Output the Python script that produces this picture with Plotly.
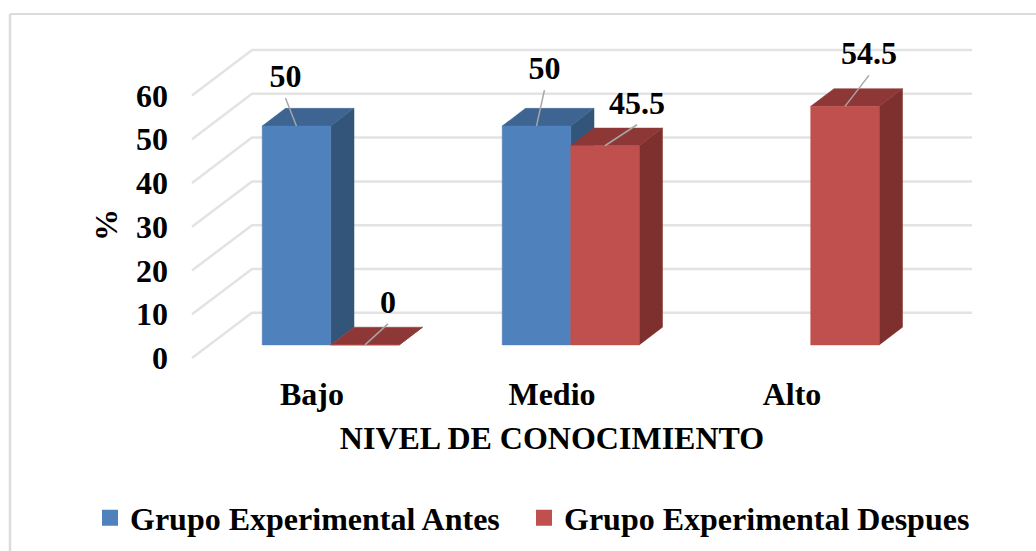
import plotly.graph_objects as go

# Datos del gráfico
categories = ["Bajo", "Medio", "Alto"]
antes_values = [50, 50, None]
despues_values = [0, 45.5, 54.5]
y_ticks = [0, 10, 20, 30, 40, 50, 60]

ANTES_NAME = "Grupo Experimental Antes"
DESPUES_NAME = "Grupo Experimental Despues"

# Oblique projection used for the 3D look, in axis units
PX_X = 1 / 240        # one screen pixel along x
PX_Y = 1 / 4.377      # one screen pixel along y
WALL_DX, WALL_DY = 60 * PX_X, 45.3 * PX_Y
FRONT_DX, FRONT_DY = 18.7 * PX_X, 13.1 * PX_Y
SIDE_DX, SIDE_DY = 23.3 * PX_X, 17.7 * PX_Y
BAR_W = 68.5 * PX_X

# Plot frame in page pixels; wide enough to hold the walls and the labels
LEFT, RIGHT, TOP, BOTTOM = 128, 976, 30, 420
AXIS_X, AXIS_Y = 192, 358

FONT = dict(family="Liberation Serif", size=32, color="black", weight=700)
GRID = "#e3e3e3"
LEADER = "#a6a6a6"
BLUE = dict(front="#4f81bd", side="#325579", top="#3e6491")
RED = dict(front="#c0504d", side="#7d302e", top="#8d3836")

# Leader-line ends for each label, pixels from the bar's front top edge
antes_leaders = [(-11, -28), (8, -36), None]
despues_leaders = [(23, -21), (32, -21), (24, -31)]
LABEL_GAP = 19

fig = go.Figure()


def poly(xs, ys, color):
    fig.add_trace(go.Scatter(
        x=xs + xs[:1], y=ys + ys[:1], mode="lines", fill="toself",
        fillcolor=color, line=dict(color=color, width=0.5),
        hoverinfo="skip", showlegend=False))


def line(xs, ys, color, width):
    fig.add_trace(go.Scatter(
        x=xs, y=ys, mode="lines", line=dict(color=color, width=width),
        hoverinfo="skip", showlegend=False))


# Back wall gridlines and the floor/side diagonals
for t in y_ticks:
    line([-0.5, -0.5 + WALL_DX, 2.5 + WALL_DX],
         [t, t + WALL_DY, t + WALL_DY], GRID, 2.5)


def bars(values, slot, colors):
    """Draws the faces of one series; slot 0 sits left of the group centre."""
    for i, v in enumerate(values):
        if v is None:
            continue
        x0 = i + FRONT_DX - BAR_W + slot * BAR_W
        x1 = x0 + BAR_W
        b = FRONT_DY
        t = v + FRONT_DY
        poly([x1, x1 + SIDE_DX, x1 + SIDE_DX, x1],
             [b, b + SIDE_DY, t + SIDE_DY, t], colors["side"])
        poly([x0, x1, x1 + SIDE_DX, x0 + SIDE_DX],
             [t, t, t + SIDE_DY, t + SIDE_DY], colors["top"])
        poly([x0, x1, x1, x0], [b, b, t, t], colors["front"])


def labels(values, slot, leaders):
    """Value labels joined to their bars with a thin leader line."""
    for i, (v, lead) in enumerate(zip(values, leaders)):
        if v is None:
            continue
        x = i + FRONT_DX - BAR_W + slot * BAR_W + BAR_W / 2
        y = v + FRONT_DY
        ex = x + lead[0] * PX_X
        ey = y - lead[1] * PX_Y
        line([x, ex], [y, ey], LEADER, 1.5)
        fig.add_trace(go.Scatter(
            x=[ex], y=[ey + LABEL_GAP * PX_Y], mode="text", text=[f"{v:g}"],
            textposition="middle center", textfont=FONT,
            hoverinfo="skip", showlegend=False))


bars(antes_values, 0, BLUE)
bars(despues_values, 1, RED)
labels(antes_values, 0, antes_leaders)
labels(despues_values, 1, despues_leaders)

# One legend per series so each entry can sit at its own position
for name, colors, legend_id in ((ANTES_NAME, BLUE, "legend"), (DESPUES_NAME, RED, "legend2")):
    fig.add_trace(go.Scatter(
        x=[None], y=[None], mode="markers", name=name, legend=legend_id,
        marker=dict(symbol="square", size=16, color=colors["front"])))

W, H = RIGHT - LEFT, BOTTOM - TOP


def paper_x(px):
    return (px - LEFT) / W


def paper_y(px):
    return (BOTTOM - px) / H


def legend_at(px):
    return dict(
        orientation="h", x=paper_x(px), y=paper_y(518), xanchor="left", yanchor="middle",
        font=FONT, itemclick=False, itemdoubleclick=False, bgcolor="rgba(0,0,0,0)",
    )


fig.update_layout(
    width=1036, height=551,
    margin=dict(l=LEFT, r=1036 - RIGHT, t=TOP, b=551 - BOTTOM, autoexpand=False),
    paper_bgcolor="white", plot_bgcolor="rgba(0,0,0,0)",
    font=FONT,
    showlegend=True,
    legend=legend_at(90),
    legend2=legend_at(524),
    xaxis=dict(
        range=[(LEFT - 312) / 240, (RIGHT - 312) / 240],
        anchor="free", position=paper_y(AXIS_Y),
        tickmode="array", tickvals=[0, 1, 2],
        ticktext=categories, showgrid=False, zeroline=False, showline=False,
        ticks="", ticklabelstandoff=14, tickfont=FONT, automargin=False,
        title=dict(text="NIVEL DE CONOCIMIENTO", font=FONT, standoff=15),
    ),
    yaxis=dict(
        range=[-(BOTTOM - AXIS_Y) / 4.377, (AXIS_Y - TOP) / 4.377],
        anchor="free", position=paper_x(AXIS_X),
        tickmode="array", tickvals=y_ticks,
        showgrid=False, zeroline=False, showline=False,
        ticks="", ticklabelstandoff=24, tickfont=FONT, automargin=False,
        title=dict(text="%", font=FONT, standoff=7),
    ),
    shapes=[
        dict(type="line", xref="paper", yref="paper",
             x0=paper_x(10), x1=paper_x(10), y0=paper_y(551), y1=paper_y(14),
             line=dict(color="#dcdcdc", width=2.5)),
        dict(type="line", xref="paper", yref="paper",
             x0=paper_x(10), x1=paper_x(1036), y0=paper_y(14), y1=paper_y(14),
             line=dict(color="#dcdcdc", width=2)),
    ],
)

fig.write_html("out.html")
